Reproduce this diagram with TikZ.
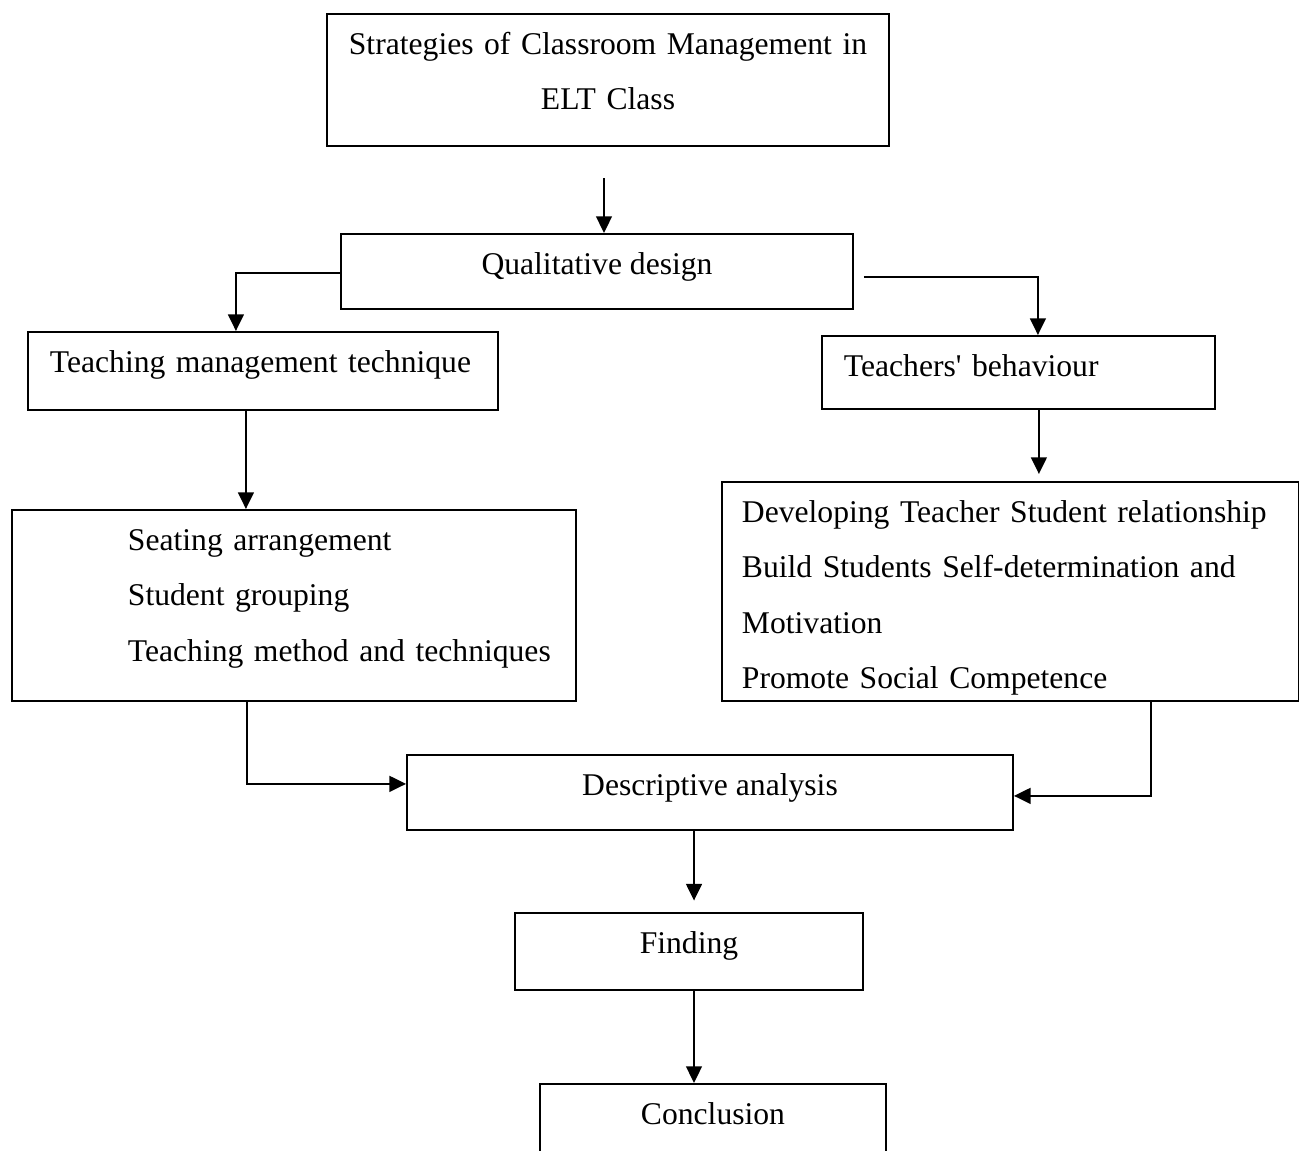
\documentclass[tikz,border=0pt]{standalone}
\usepackage{fontspec}
\setmainfont{Liberation Serif}
\usetikzlibrary{arrows.meta}

\begin{document}
\begin{tikzpicture}[x=0.02cm,y=-0.02cm,
 caja/.style={draw,line width=1.1pt,font=\fontsize{18pt}{31.5pt}\selectfont,inner sep=0pt,text height=23pt,align=center},
 lista/.style={caja,anchor=north west,align=left},
 flecha/.style={-{Triangle[length=9.5pt,width=9pt]},line width=1.1pt}]
\useasboundingbox (0,0) rectangle (1299,1151);
\clip (0,0) rectangle (1299,1151);
\node[caja,anchor=north,text width=11.24cm,text depth=51.9pt] (estrategias) at (608,13) {Strategies of Classroom Management in\\ELT Class};
\node[caja,anchor=north,minimum width=10.24cm,text depth=19.6pt] (disenio) at (597,233) {Qualitative design};
\node[lista,text width=9.4cm,text depth=21.3pt] (tecnica) at (27,331) {\hspace*{0.44cm}Teaching management technique};
\node[lista,text width=7.86cm,text depth=18.4pt] (conducta) at (821,335) {\hspace*{0.44cm}Teachers\textquotesingle{} behaviour};
\node[lista,text width=11.28cm,text depth=85.9pt] (arreglo) at (11,509) {\hspace*{2.32cm}Seating arrangement\\\hspace*{2.32cm}Student grouping\\\hspace*{2.32cm}Teaching method and techniques};
\node[lista,text width=11.54cm,text depth=101.8pt] (relacion) at (721,481) {\hspace*{0.4cm}Developing Teacher Student relationship\\\hspace*{0.4cm}Build Students Self-determination and\\\hspace*{0.4cm}Motivation\\\hspace*{0.4cm}Promote Social Competence};
\node[caja,anchor=north,minimum width=12.12cm,text depth=19.6pt] (analisis) at (710,754) {Descriptive analysis};
\node[caja,anchor=north,minimum width=6.96cm,text depth=20.7pt] (hallazgo) at (689,912) {Finding};
\node[caja,anchor=north,minimum width=6.92cm,text depth=22.7pt] (conclusion) at (713,1083) {Conclusion};
\draw[flecha,shorten <=18pt] ([xshift=-0.08cm]estrategias.south) -- ([xshift=-0.08cm]estrategias.south |- disenio.north);
\draw[flecha] ([yshift=-0.03cm]disenio.west) -| ([xshift=-0.54cm]tecnica.north);
\draw[flecha] ([shift={(0.2cm,-0.11cm)}]disenio.east) -| ([xshift=0.39cm]conducta.north);
\draw[flecha] ([xshift=-0.34cm]tecnica.south) -- ([xshift=-0.34cm]tecnica.south |- arreglo.north);
\draw[flecha,shorten >=4pt] ([xshift=0.41cm]conducta.south) -- ([xshift=0.41cm]conducta.south |- relacion.north);
\draw[flecha] ([xshift=-0.94cm]arreglo.south) |- ([yshift=0.17cm]analisis.west);
\draw[flecha] ([xshift=2.81cm]relacion.south) |- ([yshift=-0.07cm]analisis.east);
\draw[flecha,shorten >=6.5pt] ([xshift=-0.32cm]analisis.south) -- ([xshift=-0.32cm]analisis.south |- hallazgo.north);
\draw[flecha] ([xshift=0.1cm]hallazgo.south) -- ([xshift=0.1cm]hallazgo.south |- conclusion.north);
\end{tikzpicture}
\end{document}
